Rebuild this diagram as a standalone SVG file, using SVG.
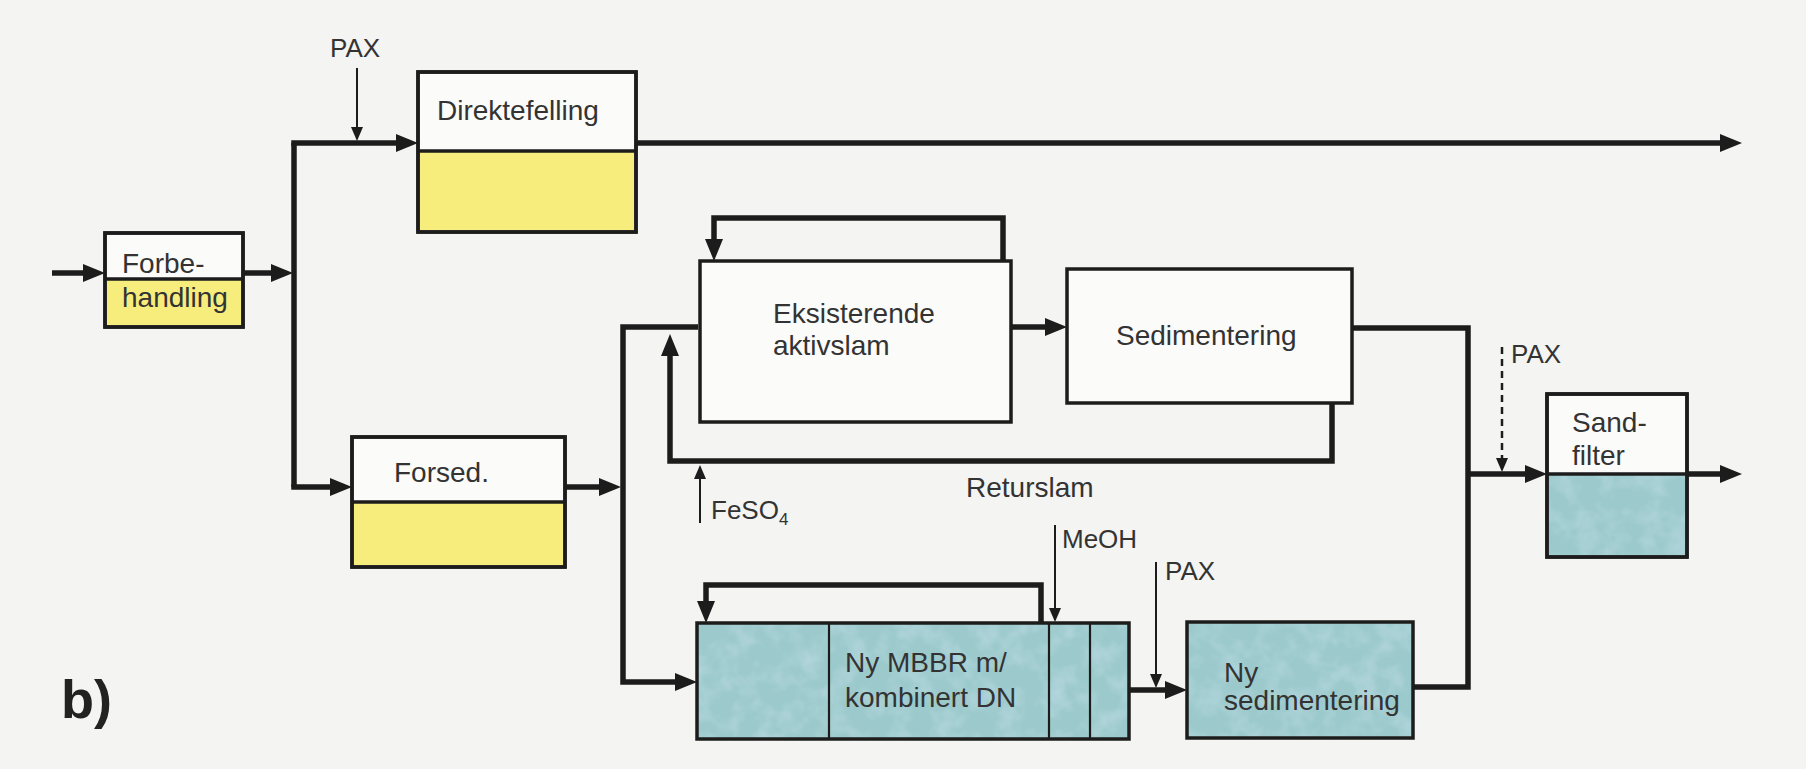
<svg xmlns="http://www.w3.org/2000/svg" width="1806" height="769" viewBox="0 0 1806 769">
<style>
.bg{fill:#f4f4f2}
.box{fill:#fbfbfa;stroke:#1c1c1c;stroke-width:3.5}
.frame{fill:none;stroke:#1c1c1c;stroke-width:3.5}
.yel{fill:#f7ed7d}
.teal{fill:#9ccacc;filter:url(#mot)}
.div{stroke:#1c1c1c;stroke-width:3.5}
.thin{stroke:#1c1c1c;stroke-width:2.2}
.flow{fill:none;stroke:#1c1c1c;stroke-width:5.5;stroke-linejoin:miter}
.chem{fill:none;stroke:#1c1c1c;stroke-width:2}
.dash{fill:none;stroke:#1c1c1c;stroke-width:2.5;stroke-dasharray:7 5}
.t{font-family:"Liberation Sans",Arial,sans-serif;font-size:28px;fill:#333}
.c{font-family:"Liberation Sans",Arial,sans-serif;font-size:26px;fill:#333}
.lbl{font-family:"Liberation Sans",Arial,sans-serif;font-size:54px;font-weight:bold;fill:#222}
</style>
<defs>
<filter id="mot" x="0" y="0" width="1" height="1">
<feTurbulence type="fractalNoise" baseFrequency="0.045" numOctaves="3" seed="7" result="n"/>
<feColorMatrix in="n" type="matrix" values="0 0 0 0 0.52  0 0 0 0 0.72  0 0 0 0 0.80  1.3 0 0 0 -0.55" result="spots"/>
<feComposite in="spots" in2="SourceGraphic" operator="atop"/>
</filter>
<marker id="ah" markerUnits="userSpaceOnUse" markerWidth="24" markerHeight="20" refX="13" refY="9" orient="auto">
<path d="M0,0 L22,9 L0,18 z" fill="#1c1c1c"/>
</marker>
<marker id="as" markerUnits="userSpaceOnUse" markerWidth="16" markerHeight="14" refX="8" refY="6" orient="auto">
<path d="M0,0 L14,6 L0,12 z" fill="#1c1c1c"/>
</marker>
</defs>
<rect class="bg" x="0" y="0" width="1806" height="769"/>

<g id="n-forbehandling">
<rect class="box" x="105" y="233" width="138" height="94"/>
<rect class="yel" x="107" y="279" width="134" height="46"/>
<line class="div" x1="105" y1="279" x2="243" y2="279"/>
<rect class="frame" x="105" y="233" width="138" height="94"/>
<text class="t" x="122" y="273">Forbe-</text>
<text class="t" x="122" y="307">handling</text>
</g>

<g id="n-direktefelling">
<rect class="box" x="418" y="72" width="218" height="160"/>
<rect class="yel" x="420" y="151" width="214" height="79"/>
<line class="div" x1="418" y1="151" x2="636" y2="151"/>
<rect class="frame" x="418" y="72" width="218" height="160"/>
<text class="t" x="437" y="120">Direktefelling</text>
</g>

<g id="n-forsed">
<rect class="box" x="352" y="437" width="213" height="130"/>
<rect class="yel" x="354" y="502" width="209" height="63"/>
<line class="div" x1="352" y1="502" x2="565" y2="502"/>
<rect class="frame" x="352" y="437" width="213" height="130"/>
<text class="t" x="394" y="482">Forsed.</text>
</g>

<g id="n-eksisterende">
<rect class="box" x="700" y="261" width="311" height="161"/>
<text class="t" x="773" y="323">Eksisterende</text>
<text class="t" x="773" y="355">aktivslam</text>
</g>

<g id="n-sedimentering">
<rect class="box" x="1067" y="269" width="285" height="134"/>
<text class="t" x="1116" y="345">Sedimentering</text>
</g>

<g id="n-mbbr">
<rect class="teal" x="697" y="623" width="432" height="116"/>
<line class="thin" x1="829" y1="623" x2="829" y2="739"/>
<line class="thin" x1="1049" y1="623" x2="1049" y2="739"/>
<line class="thin" x1="1090" y1="623" x2="1090" y2="739"/>
<rect class="frame" x="697" y="623" width="432" height="116"/>
<text class="t" x="845" y="672">Ny MBBR m/</text>
<text class="t" x="845" y="707">kombinert DN</text>
</g>

<g id="n-nysed">
<rect class="teal" x="1187" y="622" width="226" height="116"/>
<rect class="frame" x="1187" y="622" width="226" height="116"/>
<text class="t" x="1224" y="682">Ny</text>
<text class="t" x="1224" y="710">sedimentering</text>
</g>

<g id="n-sandfilter">
<rect class="box" x="1547" y="394" width="140" height="163"/>
<rect class="teal" x="1549" y="474" width="136" height="81"/>
<line class="div" x1="1547" y1="474" x2="1687" y2="474"/>
<rect class="frame" x="1547" y="394" width="140" height="163"/>
<text class="t" x="1572" y="432">Sand-</text>
<text class="t" x="1572" y="465">filter</text>
</g>

<g id="connectors">
<path class="flow" d="M52,273 H96" marker-end="url(#ah)"/>
<path class="flow" d="M243,273 H284" marker-end="url(#ah)"/>
<path class="flow" d="M294,487 V143"/>
<path class="flow" d="M291.25,143 H409" marker-end="url(#ah)"/>
<path class="flow" d="M294,484.25 V487 H343" marker-end="url(#ah)"/>
<path class="flow" d="M636,143 H1733" marker-end="url(#ah)"/>
<path class="flow" d="M565,487 H612" marker-end="url(#ah)"/>
<path class="flow" d="M690,327 H623 V682 H688" marker-end="url(#ah)"/>
<path class="flow" d="M690,327 H698"/>
<path class="flow" d="M1003,261 V218 H714 V252" marker-end="url(#ah)"/>
<path class="flow" d="M1011,327 H1058" marker-end="url(#ah)"/>
<path class="flow" d="M1332,403 V461 H670 V343" marker-end="url(#ah)"/>
<path class="flow" d="M1352,328 H1468 V687 H1413"/>
<path class="flow" d="M1468,474 H1538" marker-end="url(#ah)"/>
<path class="flow" d="M1687,474 H1733" marker-end="url(#ah)"/>
<path class="flow" d="M1041,623 V585 H706 V614" marker-end="url(#ah)"/>
<path class="flow" d="M1129,690 H1178" marker-end="url(#ah)"/>
<path class="chem" d="M357,68 V135" marker-end="url(#as)"/>
<path class="chem" d="M700,523 V471" marker-end="url(#as)"/>
<path class="chem" d="M1055,525 V616" marker-end="url(#as)"/>
<path class="chem" d="M1156,562 V682" marker-end="url(#as)"/>
<path class="dash" d="M1502,347 V466" marker-end="url(#as)"/>
</g>

<g id="labels">
<text class="c" x="330" y="57">PAX</text>
<text class="c" x="711" y="519">FeSO<tspan font-size="17" dy="6">4</tspan></text>
<text class="t" x="966" y="497">Returslam</text>
<text class="c" x="1062" y="548">MeOH</text>
<text class="c" x="1165" y="580">PAX</text>
<text class="c" x="1511" y="363">PAX</text>
<text class="lbl" x="61" y="718">b)</text>
</g>
</svg>
